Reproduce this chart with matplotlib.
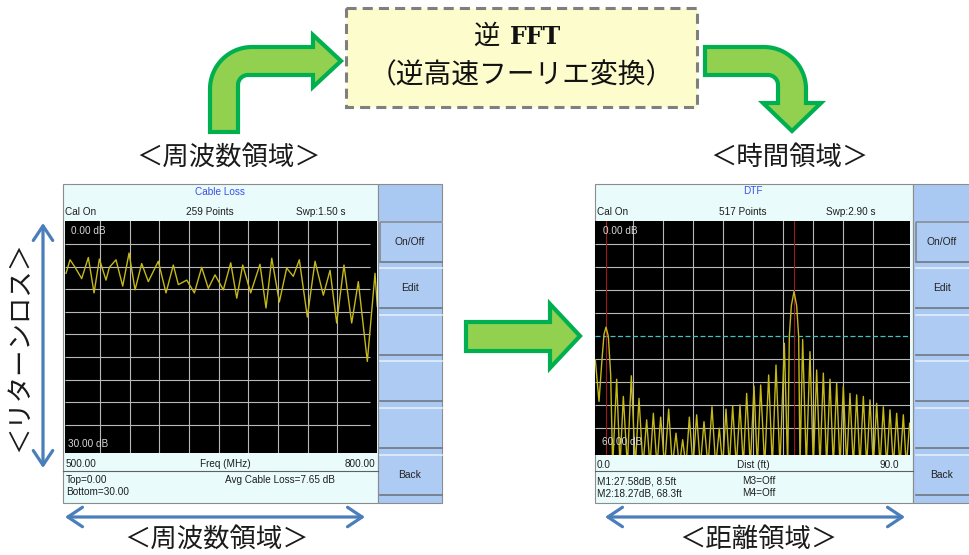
import numpy as np
import matplotlib
matplotlib.use("Agg")
import matplotlib.pyplot as plt
from matplotlib.patches import Rectangle, Polygon, FancyArrowPatch

W, H = 970, 555

# ── data ─────────────────────────────────────────────────────────────────────
# frequency domain trace (Cable Loss, 500-800 MHz, 0-30 dB)
cable_mhz = [495.5, 499.6, 504.7, 511.4, 518.1, 523.9, 529.3, 536.0, 539.4,
             546.1, 552.9, 559.3, 565.4, 572.1, 578.8, 588.9, 596.7, 604.1,
             609.2, 617.7, 625.4, 632.8, 639.5, 646.3, 654.7, 662.2, 668.3,
             674.3, 682.4, 691.8, 697.9, 703.7, 711.4, 718.8, 725.5, 731.6,
             739.7, 747.5, 755.9, 762.7, 769.4, 776.8, 784.6, 791.3, 800.4,
             808.2, 810.5]
cable_db = [6.9, 5.1, 6.1, 7.6, 4.8, 9.5, 5.0, 7.8, 6.1,
            5.1, 8.6, 4.2, 9.1, 5.6, 8.0, 5.3, 9.5, 5.8,
            8.4, 7.8, 9.5, 6.1, 8.9, 7.1, 9.1, 5.5, 10.2,
            5.8, 9.5, 5.7, 11.5, 4.9, 10.7, 6.2, 7.3, 5.1,
            12.7, 5.3, 9.8, 6.5, 13.5, 5.8, 13.5, 8.0, 18.6,
            6.9, 11.3]

# distance domain trace (DTF, 0-90 ft, 0-60 dB); 64 dB = null below screen
dtf_ft = [-2.3, -1.2, -0.3, 0.3, 0.9, 1.6, 2.3, 2.9,
          4.1, 5.1, 6.1, 7.3, 8.5, 9.7, 10.8, 12.0, 13.1, 14.1, 15.1, 16.2,
          17.3, 18.5, 19.7, 20.8, 21.9, 22.9, 23.9, 24.9, 25.9, 27.0, 28.1,
          29.2, 30.3, 31.5, 32.7, 33.8, 34.9, 35.9, 36.9, 37.9, 38.9, 40.0,
          41.1, 42.1, 43.1, 44.2, 45.3, 46.3, 47.3, 48.5, 49.7, 50.8, 51.9,
          53.1, 54.4, 55.4, 55.9, 56.5, 57.3, 58.1, 58.7, 59.1, 59.9, 61.0,
          62.1, 63.1, 64.1, 65.1, 66.1, 67.1, 68.1, 69.1, 70.1, 71.1, 72.1,
          73.1, 74.1, 75.1, 76.1, 77.1, 78.1, 79.1, 80.1, 81.1, 82.1, 83.1,
          84.1, 85.1, 86.1, 87.1, 88.1, 89.1, 90.1, 91.0, 92.0]
dtf_db = [36.2, 47.0, 36.0, 29.5, 27.6, 30.0, 40.0, 64,
          41.2, 64, 45.7, 64, 40.3, 64, 46.2, 64, 51.8, 64, 50.1, 64,
          51.1, 64, 49.0, 64, 55.3, 64, 57.0, 64, 51.1, 64, 50.5,
          64, 52.3, 64, 48.4, 64, 54.0, 64, 49.0, 64, 48.2, 64,
          47.9, 64, 44.9, 64, 43.0, 64, 42.7, 64, 40.1, 64, 37.5,
          64, 31.8, 64, 30.0, 22.0, 18.3, 22.0, 30.0, 64, 30.8, 64,
          34.0, 64, 38.8, 64, 39.6, 64, 41.2, 64, 42.2, 64, 43.1,
          64, 44.9, 64, 45.3, 64, 45.7, 64, 46.6, 64, 47.5, 64,
          48.4, 64, 49.2, 64, 50.1, 64, 50.5, 64, 52.7]
marker_ft = [0.9, 57.3]
limit_db = 30.0

freq_span = (500.0, 800.0)
dist_span = (0.0, 90.0)

button_labels = ["On/Off", "Edit", "", "", "", "Back"]
button_tops = [222, 268, 315, 361, 408, 455]

# ── colours ──────────────────────────────────────────────────────────────────
SCREEN = "#e9fbfb"
PANEL = "#a9c8f2"
TRACE = "#c4b81a"
GRID = "#b8b8b8"
GREEN_FILL = "#92d050"
GREEN_EDGE = "#00b050"
BLUE = "#4a7ebb"
JP = ["Noto Sans CJK JP", "DejaVu Sans"]
LAT = "Liberation Sans"
FS = 7.2

fig = plt.figure(figsize=(W / 100, H / 100), dpi=100)
base = fig.add_axes([0, 0, 1, 1])
base.set_xlim(0, W)
base.set_ylim(H, 0)
base.axis("off")


def px_axes(x0, y0, x1, y1):
    return fig.add_axes([x0 / W, 1 - y1 / H, (x1 - x0) / W, (y1 - y0) / H])


def arc(cx, cy, r, a0, a1, n=24):
    t = np.radians(np.linspace(a0, a1, n))
    return list(zip(cx + r * np.cos(t), cy + r * np.sin(t)))


def txt(x, y, s, ha="left", **kw):
    kw.setdefault("color", "#1e1e1e")
    base.text(x, y, s, ha=ha, va="center", fontsize=FS, family=LAT, **kw)


def screen(left, panel_left, right, btn_x0):
    base.add_patch(Rectangle((left, 184), panel_left - left, 319,
                             fc=SCREEN, ec="#8c8c8c", lw=0.8))
    base.add_patch(Rectangle((panel_left, 184), right - panel_left, 319,
                             fc=PANEL, ec="#8c8c8c", lw=0.8))
    base.plot([left, panel_left], [471, 471], color="#606060", lw=0.8)
    for i, (top, lab) in enumerate(zip(button_tops, button_labels)):
        base.add_patch(Rectangle((btn_x0, top), right - btn_x0, 40,
                                 fc="#aecbf4", ec="none"))
        base.plot([btn_x0, right], [top, top], color="#e4eefc", lw=1.2)
        base.plot([btn_x0, right], [top + 40, top + 40], color="#6f7780", lw=1.2)
        if i == 0:
            base.plot([btn_x0, btn_x0, right], [top + 40, top, top],
                      color="#7d8894", lw=1.2)
        base.text((btn_x0 + min(right, W)) / 2 - 1, top + 20, lab,
                  ha="center", va="center", fontsize=7.4, family=LAT,
                  color="#222222")


def put(ax, box, px, py, s, **kw):
    x0, y0, x1, y1 = box
    ax.text((px - x0) / (x1 - x0), 1 - (py - y0) / (y1 - y0), s,
            transform=ax.transAxes, fontsize=FS, family=LAT,
            color="#d8d8d8", va="center", **kw)


def grid_axes(box, xlim, ylim, xgrid, ygrid, hline_end):
    ax = px_axes(*box)
    ax.set_facecolor("black")
    ax.set_xlim(*xlim)
    ax.set_ylim(*ylim)
    for v in xgrid:
        ax.axvline(v, color=GRID, lw=0.8, zorder=1)
    ax.hlines(ygrid, xlim[0], hline_end, color=GRID, lw=0.8, zorder=1)
    ax.set_xticks([])
    ax.set_yticks([])
    for sp in ax.spines.values():
        sp.set_visible(False)
    return ax


# ── left screen: frequency domain ───────────────────────────────────────────
screen(63, 378, 442, 380)
boxL = (65, 221, 377, 453)
axL = grid_axes(boxL, (494.5, 810.2), (30.76, -0.05),
                np.arange(freq_span[0] + 30, freq_span[1], 30),
                np.arange(3, 30, 3), 803)
axL.plot(cable_mhz, cable_db, color=TRACE, lw=1.0, zorder=3,
         solid_joinstyle="round")
put(axL, boxL, 71, 231, "0.00 dB")
put(axL, boxL, 68, 444, "30.00 dB")

txt(220, 192, "Cable Loss", ha="center", color="#3c50e6")
txt(65, 212, "Cal On")
txt(210, 212, "259 Points", ha="center")
txt(321, 212, "Swp:1.50 s", ha="center")
txt(66, 464, f"{freq_span[0]:.2f}")
txt(225, 464, "Freq (MHz)", ha="center")
txt(375, 464, f"{freq_span[1]:.2f}", ha="right")
txt(66, 480, "Top=0.00")
txt(66, 492, "Bottom=30.00")
txt(225, 480, "Avg Cable Loss=7.65 dB")

# ── right screen: distance domain ───────────────────────────────────────────
screen(595, 913, 972, 916)
boxR = (595, 221, 910, 455)
axR = grid_axes(boxR, (-2.4, 92.1), (61.0, -0.13),
                np.arange(dist_span[0] + 9, dist_span[1], 9),
                [g for g in np.arange(6, 60, 6) if g != limit_db], 92.1)
axR.axhline(limit_db, color="#3fc4c4", lw=0.9, ls=(0, (4, 2)), zorder=2)
for m in marker_ft:
    axR.axvline(m, color="#a01818", lw=0.8, zorder=2)
axR.plot(dtf_ft, dtf_db, color=TRACE, lw=1.0, zorder=3, solid_joinstyle="round")
put(axR, boxR, 603, 231, "0.00 dB")
put(axR, boxR, 602, 442, "60.00 dB")

txt(753, 191, "DTF", ha="center", color="#3c50e6")
txt(597, 212, "Cal On")
txt(743, 212, "517 Points", ha="center")
txt(851, 212, "Swp:2.90 s", ha="center")
txt(597, 465, f"{dist_span[0]:.1f}")
txt(753, 465, "Dist (ft)", ha="center")
txt(899, 465, f"{dist_span[1]:.1f}", ha="right")
txt(597, 481, "M1:27.58dB, 8.5ft")
txt(597, 493, "M2:18.27dB, 68.3ft")
txt(742, 481, "M3=Off")
txt(742, 493, "M4=Off")

# ── IFFT box and green arrows ───────────────────────────────────────────────
base.add_patch(Rectangle((346, 8), 351, 99, fc="#fdfccc", ec="#7f7f7f",
                         lw=2.2, ls=(0, (3.3, 2))))
base.text(500, 36, "逆", ha="right", va="center", fontsize=19, family=JP,
          color="#111111")
base.text(510, 37, "FFT", ha="left", va="center", fontsize=17,
          family="DejaVu Serif", fontweight="bold", color="#111111")
base.text(521, 75, "（逆高速フーリエ変換）", ha="center", va="center",
          fontsize=20, family=JP, color="#111111")

green = dict(fc=GREEN_FILL, ec=GREEN_EDGE, lw=3.0, joinstyle="miter")
bent_up = ([(210, 132), (210, 89)] + arc(252, 89, 42, 180, 270)
           + [(313, 47), (313, 35), (341, 61), (313, 87), (313, 75), (248, 75)]
           + arc(248, 85, 10, 270, 180) + [(238, 132)])
base.add_patch(Polygon(bent_up, closed=True, **green))
bent_down = ([(705, 47), (764, 47)] + arc(764, 89, 42, 270, 360)
             + [(806, 103), (821, 103), (792, 131), (763, 103), (778, 103), (778, 85)]
             + arc(768, 85, 10, 0, -90) + [(705, 75)])
base.add_patch(Polygon(bent_down, closed=True, **green))
straight = [(466, 322), (550, 322), (550, 304), (580, 336), (550, 368),
            (550, 351), (466, 351)]
base.add_patch(Polygon(straight, closed=True, **green))

# ── blue span arrows and Japanese labels ────────────────────────────────────
for a, b in [((43, 223), (43, 468)), ((65, 517), (365, 517)), ((605, 517), (905, 517))]:
    base.add_patch(FancyArrowPatch(a, b, arrowstyle="<->,head_length=10.5,head_width=7",
                                   mutation_scale=1, color=BLUE, lw=2.3,
                                   shrinkA=0, shrinkB=0))

jp = dict(ha="center", va="center", fontsize=19, family=JP, color="#1a1a1a")
base.text(229, 157, "＜周波数領域＞", **jp)
base.text(789, 157, "＜時間領域＞", **jp)
base.text(217, 539, "＜周波数領域＞", **jp)
base.text(758, 539, "＜距離領域＞", **jp)
base.text(20, 346, "＜リターンロス＞", rotation=90, **jp)

fig.savefig("out.png", dpi=100)
